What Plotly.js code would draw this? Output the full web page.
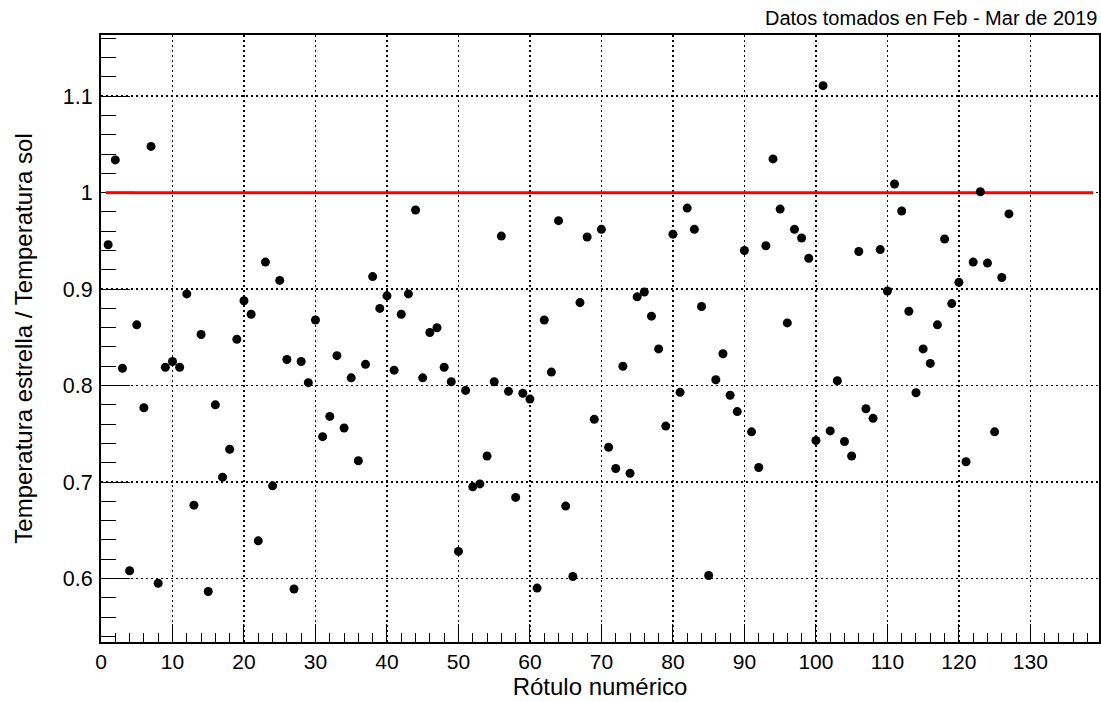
<!DOCTYPE html>
<html>
<head>
<meta charset="utf-8">
<script src="https://cdn.plot.ly/plotly-3.0.1.min.js"></script>
<style>
html,body{margin:0;padding:0;background:#fff;}
#chart{width:1101px;height:702px;}
</style>
</head>
<body>
<div id="chart"></div>
<script>
// Rótulo numérico (x) de cada estrella
const rotulo = [
  1,2,3,4,5,6,7,8,9,10,11,12,13,14,15,16,17,18,19,20,
  21,22,23,24,25,26,27,28,29,30,31,32,33,34,35,36,37,38,39,40,
  41,42,43,44,45,46,47,48,49,50,51,52,53,54,55,56,57,58,59,60,
  61,62,63,64,65,66,67,68,69,70,71,72,73,74,75,76,77,78,79,80,
  81,82,83,84,85,86,87,88,89,90,91,92,93,94,95,96,97,98,99,100,
  101,102,103,104,105,106,107,108,109,110,111,112,113,114,115,116,117,118,119,120,
  121,122,123,124,125,126,127
];
// Temperatura estrella / Temperatura sol
const razonTemp = [
  0.946,1.034,0.818,0.608,0.863,0.777,1.048,0.595,0.819,0.825,
  0.819,0.895,0.676,0.853,0.5865,0.780,0.705,0.734,0.848,0.888,
  0.874,0.639,0.928,0.696,0.909,0.827,0.589,0.825,0.803,0.868,
  0.747,0.768,0.831,0.756,0.808,0.722,0.822,0.913,0.880,0.893,
  0.816,0.874,0.895,0.982,0.808,0.855,0.860,0.819,0.804,0.628,
  0.795,0.695,0.698,0.727,0.804,0.955,0.794,0.684,0.792,0.786,
  0.590,0.868,0.814,0.971,0.675,0.602,0.886,0.954,0.765,0.962,
  0.736,0.714,0.820,0.709,0.892,0.897,0.872,0.838,0.758,0.957,
  0.793,0.984,0.962,0.882,0.603,0.806,0.833,0.790,0.773,0.940,
  0.752,0.715,0.945,1.035,0.983,0.865,0.962,0.953,0.932,0.743,
  1.111,0.753,0.805,0.742,0.727,0.939,0.776,0.766,0.941,0.898,
  1.009,0.981,0.877,0.7925,0.838,0.823,0.863,0.952,0.885,0.907,
  0.721,0.928,1.001,0.927,0.752,0.912,0.978
];
// Valor de referencia (Sol)
const referencia = 1.0;

const fontFam = '"Liberation Sans", Arial, Helvetica, sans-serif';

const trace = {
  x: rotulo,
  y: razonTemp,
  type: 'scatter',
  mode: 'markers',
  marker: {color: '#000000', size: 9, symbol: 'circle'},
  hoverinfo: 'x+y',
  showlegend: false
};

const refLine = {color: '#ff0000', width: 3};

const layout = {
  width: 1101,
  height: 702,
  margin: {l: 101, r: 2, t: 35, b: 60, pad: 0},
  paper_bgcolor: '#ffffff',
  plot_bgcolor: '#ffffff',
  font: {family: fontFam, color: '#000000', size: 21},
  showlegend: false,
  xaxis: {
    range: [0, 139.6],
    autorange: false,
    tick0: 0,
    dtick: 10,
    ticks: 'inside',
    ticklen: 18,
    tickwidth: 1,
    tickcolor: '#000000',
    tickfont: {family: fontFam, size: 21, color: '#000000'},
    showline: true,
    linecolor: '#000000',
    linewidth: 2,
    mirror: true,
    showgrid: true,
    gridcolor: '#000000',
    gridwidth: 1.6,
    griddash: '2px,3px',
    zeroline: false,
    minor: {dtick: 2, ticks: 'inside', ticklen: 9, tickwidth: 1, tickcolor: '#000000', showgrid: false},
    title: {text: 'Rótulo numérico', font: {family: fontFam, size: 24, color: '#000000'}, standoff: 6}
  },
  yaxis: {
    range: [0.5341, 1.1635],
    autorange: false,
    tick0: 0,
    dtick: 0.1,
    ticks: 'inside',
    ticklen: 29,
    tickwidth: 1,
    tickcolor: '#000000',
    tickfont: {family: fontFam, size: 21.5, color: '#000000'},
    ticklabelstandoff: 2,
    showline: true,
    linecolor: '#000000',
    linewidth: 2,
    mirror: true,
    showgrid: true,
    gridcolor: '#000000',
    gridwidth: 1.6,
    griddash: '2px,3px',
    zeroline: false,
    minor: {dtick: 0.02, ticks: 'inside', ticklen: 15, tickwidth: 1, tickcolor: '#000000', showgrid: false},
    title: {text: 'Temperatura estrella / Temperatura sol', font: {family: fontFam, size: 24, color: '#000000'}, standoff: 23}
  },
  shapes: [
    {
      // tramo sobre la marca del eje (dibujado encima, como en el original)
      type: 'line', xref: 'x', yref: 'y',
      x0: 0.7, x1: 4.5, y0: referencia, y1: referencia,
      line: refLine, layer: 'above'
    },
    {
      type: 'line', xref: 'x', yref: 'y',
      x0: 4.4, x1: 138.8, y0: referencia, y1: referencia,
      line: refLine, layer: 'between'
    }
  ],
  annotations: [{
    text: 'Datos tomados en Feb - Mar de 2019',
    xref: 'paper', yref: 'paper',
    x: 1.0, y: 1.028,
    xanchor: 'right', yanchor: 'middle',
    showarrow: false,
    font: {family: fontFam, size: 20, color: '#000000'}
  }]
};

Plotly.newPlot('chart', [trace], layout, {displayModeBar: false, staticPlot: true});
</script>
</body>
</html>
